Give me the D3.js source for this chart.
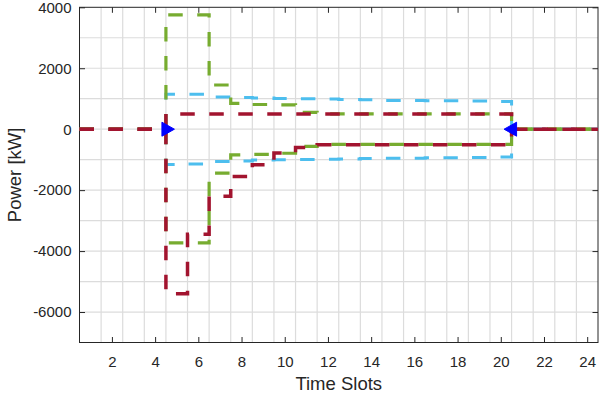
<!DOCTYPE html>
<html>
<head>
<meta charset="utf-8">
<script src="https://cdn.jsdelivr.net/npm/d3@7"></script>
<style>
  body { margin: 0; background: #fff; }
  svg text { font-family: "Liberation Sans", Arial, sans-serif; fill: #262626; }
</style>
</head>
<body>
<div id="chart"></div>
<script>
// ===== data (one value per time slot 1..24) =====
var slots = d3.range(1, 25)
var blueUpper = [0,0,0,0, 1150,1150,1060,1040,1020,1010,1000,990,975,965,945,940,935,930,925,910, 0,0,0,0]
var blueLower = [0,0,0,0, -1160,-1140,-1060,-1040,-1010,-1000,-995,-990,-975,-965,-955,-950,-940,-935,-925,-910, 0,0,0,0]
var greenUpper = [0,0,0,0, 3750,3750,1450,850,810,800,550,500,500,500,500,500,500,500,500,500, 0,0,0,0]
var greenLower = [0,0,0,0, -3730,-3730,-1440,-840,-825,-790,-565,-500,-500,-500,-500,-500,-500,-500,-500,-500, 0,0,0,0]
var redUpper = [0,0,0,0, 500,500,500,500,500,500,500,500,500,500,500,500,500,500,500,500, 0,0,0,0]
var redLower = [0,0,0,0, -5400,-3450,-2200,-1550,-1170,-780,-600,-510,-510,-510,-510,-510,-510,-510,-510,-510, 0,0,0,0]
var markers = [{t:4.5, v:0, dir:"right"}, {t:20.5, v:0, dir:"left"}]
var xTicks = [2,4,6,8,10,12,14,16,18,20,22,24]
var yTicks = [-6000,-4000,-2000,0,2000,4000]

var W = 600, H = 394
var pLeft = 79.5, pRight = 598, pTop = 7.3, pBottom = 342.5

var svg = d3.select("#chart").append("svg")
    .attr("width", W)
    .attr("height", H)

var x = d3.scaleLinear().domain([0.5, 24.5]).range([pLeft, pRight])
var y = d3.scaleLinear().domain([-7000, 4000]).range([pBottom, pTop])

// grid (vertical lines between slots, horizontal every 1000)
var grid = svg.append("g")
grid.selectAll(".gx").data(d3.range(1.5, 24.5, 1)).enter().append("line")
    .attr("x1", function(d){return x(d)}).attr("x2", function(d){return x(d)})
    .attr("y1", pTop).attr("y2", pBottom)
    .attr("stroke", "#dcdcdc").attr("stroke-width", 1.2)
grid.selectAll(".gy").data(d3.range(-6000, 4000, 1000)).enter().append("line")
    .attr("x1", pLeft).attr("x2", pRight)
    .attr("y1", function(d){return y(d)}).attr("y2", function(d){return y(d)})
    .attr("stroke", "#dcdcdc").attr("stroke-width", 1.2)

// axes
svg.append("g")
    .attr("transform", "translate(0," + pBottom + ")")
    .call(d3.axisBottom(x).tickValues(xTicks).tickSize(-5.5).tickPadding(13.5))
svg.append("g")
    .attr("transform", "translate(0," + pTop + ")")
    .call(d3.axisTop(x).tickValues(xTicks).tickSize(-5.5).tickFormat(""))
svg.append("g")
    .attr("transform", "translate(" + pLeft + ",0)")
    .call(d3.axisLeft(y).tickValues(yTicks).tickSize(-5.5).tickPadding(8).tickFormat(function(d){return String(d)}))
svg.append("g")
    .attr("transform", "translate(" + pRight + ",0)")
    .call(d3.axisRight(y).tickValues(yTicks).tickSize(-5.5).tickFormat(""))

svg.selectAll(".domain").remove()
svg.selectAll(".tick line").attr("stroke", "#262626")
svg.selectAll(".tick text").attr("font-size", "15px").attr("fill", "#262626")
    .style("font-family", "'Liberation Sans', Arial, sans-serif")

// box
svg.append("rect")
    .attr("x", pLeft).attr("y", pTop)
    .attr("width", pRight - pLeft).attr("height", pBottom - pTop)
    .attr("fill", "none").attr("stroke", "#262626").attr("stroke-width", 1)

// stair lines
function stairs(values){
    var pts = []
    values.forEach(function(v, i){
        pts.push({t: slots[i] - 0.5, v: v})
        pts.push({t: slots[i] + 0.5, v: v})
    })
    return pts
}

var line = d3.line()
    .x(function(d){return x(d.t)})
    .y(function(d){return y(d.v)})

function drawSeries(values, color, width){
    svg.append("path")
        .datum(stairs(values))
        .attr("d", line)
        .attr("fill", "none")
        .attr("stroke", color)
        .attr("stroke-width", width)
        .attr("stroke-dasharray", "14.5,14.5")
}

drawSeries(blueUpper, "#4DBEEE", 3)
drawSeries(blueLower, "#4DBEEE", 3)
drawSeries(greenUpper, "#77AC30", 3.2)
drawSeries(greenLower, "#77AC30", 3.2)
drawSeries(redUpper, "#A2142F", 3.5)
drawSeries(redLower, "#A2142F", 3.5)

// triangle markers
svg.selectAll(".marker").data(markers).enter().append("path")
    .attr("d", function(d){
        var cx = x(d.t), cy = y(d.v)
        if (d.dir == "right") return "M" + (cx-4) + "," + (cy-7) + "L" + (cx+8.5) + "," + cy + "L" + (cx-4) + "," + (cy+7) + "Z"
        return "M" + (cx+5) + "," + (cy-7) + "L" + (cx-7.5) + "," + cy + "L" + (cx+5) + "," + (cy+7) + "Z"
    })
    .attr("fill", "#0000FF")
    .attr("stroke", "#0000FF")
    .attr("stroke-width", 1)

// axis labels
svg.append("text")
    .text("Time Slots")
    .attr("x", (pLeft + pRight) / 2)
    .attr("y", 390)
    .attr("text-anchor", "middle")
    .attr("font-size", "18.5px")

svg.append("text")
    .text("Power [kW]")
    .attr("transform", "translate(21," + ((pTop + pBottom) / 2) + ") rotate(-90)")
    .attr("text-anchor", "middle")
    .attr("font-size", "18.5px")
</script>
</body>
</html>
